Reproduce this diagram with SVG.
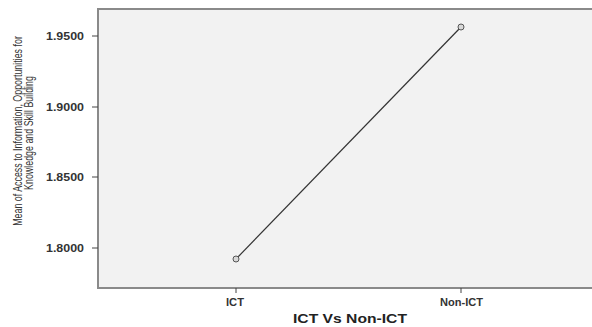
<svg xmlns="http://www.w3.org/2000/svg" width="592" height="327" viewBox="0 0 592 327">
<style>
.tick{stroke:#444;stroke-width:1}
.tl{font-family:"Liberation Sans",Arial,sans-serif;font-size:10px;font-weight:bold;fill:#333}
.ax{font-family:"Liberation Sans",Arial,sans-serif;font-size:12.5px;fill:#333}
.title{font-family:"Liberation Sans",Arial,sans-serif;font-size:13px;font-weight:bold;fill:#222}
.pt{fill:#d8d8d8;stroke:#555;stroke-width:1}
</style>
<rect x="0" y="0" width="592" height="327" fill="#ffffff"/>
<g id="plot-area">
<rect x="98" y="9" width="500" height="279" fill="#f2f2f2" stroke="#8a8a8a" stroke-width="2"/>
</g>
<g id="y-axis">
<line class="tick" x1="92" y1="36" x2="98" y2="36"/>
<line class="tick" x1="92" y1="107" x2="98" y2="107"/>
<line class="tick" x1="92" y1="177" x2="98" y2="177"/>
<line class="tick" x1="92" y1="248" x2="98" y2="248"/>
<text class="tl" x="84" y="39.5" text-anchor="end" textLength="38" lengthAdjust="spacingAndGlyphs">1.9500</text>
<text class="tl" x="84" y="110.5" text-anchor="end" textLength="38" lengthAdjust="spacingAndGlyphs">1.9000</text>
<text class="tl" x="84" y="180.5" text-anchor="end" textLength="38" lengthAdjust="spacingAndGlyphs">1.8500</text>
<text class="tl" x="84" y="251.5" text-anchor="end" textLength="38" lengthAdjust="spacingAndGlyphs">1.8000</text>
<text class="ax" transform="translate(22,131) rotate(-90) scale(0.71,1)" text-anchor="middle">Mean of Access to Information, Opportunities for</text>
<text class="ax" transform="translate(33,133) rotate(-90) scale(0.71,1)" text-anchor="middle">Knowledge and Skill Building</text>
</g>
<g id="x-axis">
<line class="tick" x1="236" y1="288" x2="236" y2="293"/>
<line class="tick" x1="461" y1="288" x2="461" y2="293"/>
<text class="tl" x="235" y="306" text-anchor="middle" textLength="18" lengthAdjust="spacingAndGlyphs">ICT</text>
<text class="tl" x="461.5" y="306" text-anchor="middle" textLength="43" lengthAdjust="spacingAndGlyphs">Non-ICT</text>
<text class="title" x="350" y="323" text-anchor="middle" textLength="114" lengthAdjust="spacingAndGlyphs">ICT Vs Non-ICT</text>
</g>
<g id="connectors">
<line x1="236" y1="259" x2="461" y2="27" stroke="#333" stroke-width="1.2"/>
</g>
<g id="point-ict"><circle class="pt" cx="236" cy="259" r="3"/></g>
<g id="point-nonict"><circle class="pt" cx="461" cy="27" r="3"/></g>
</svg>
